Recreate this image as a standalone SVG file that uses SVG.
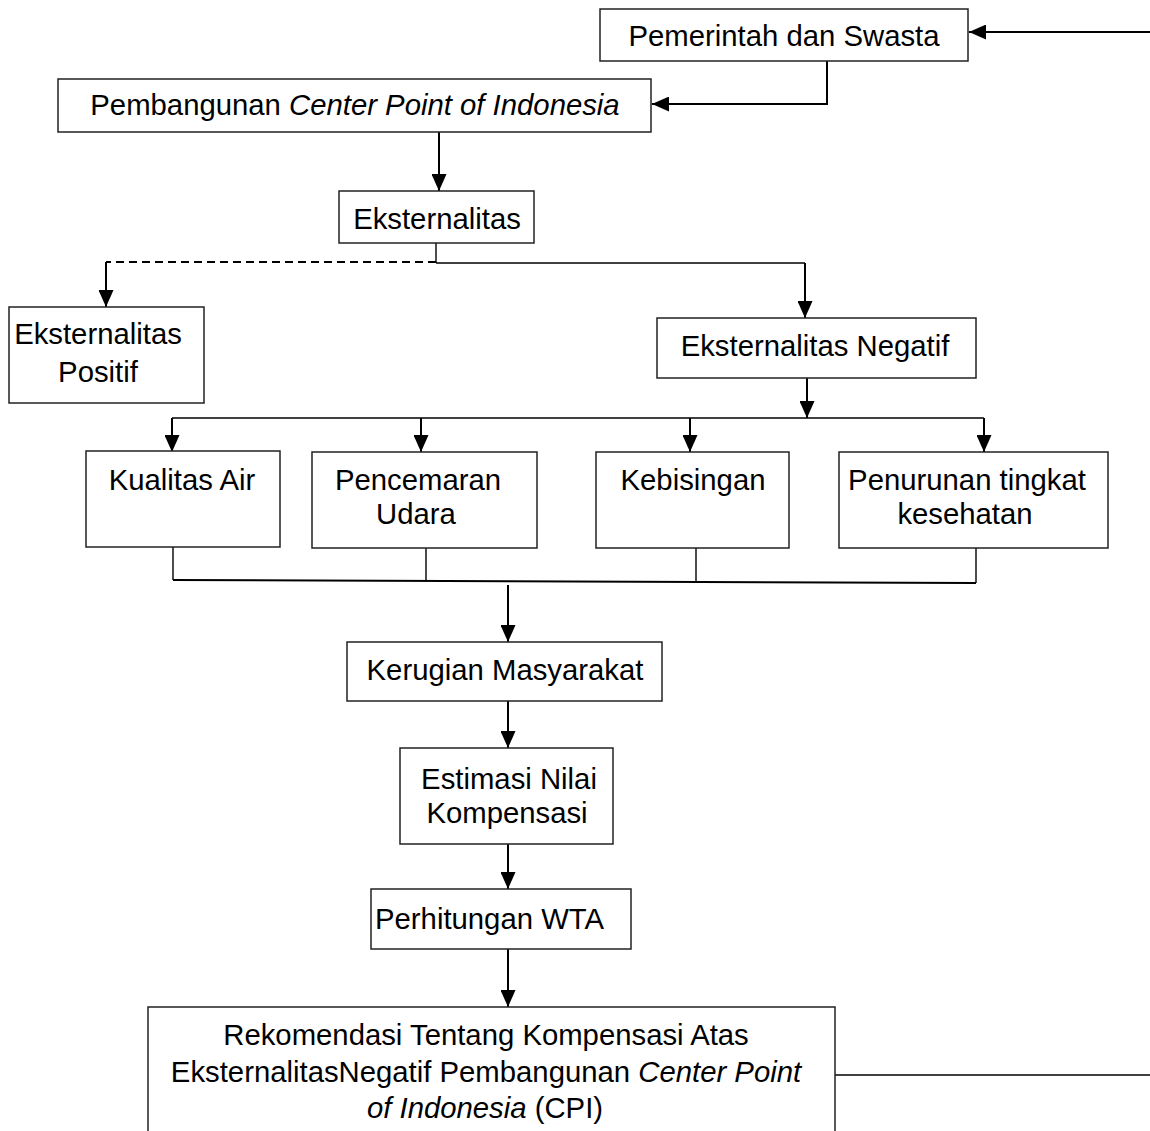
<svg xmlns="http://www.w3.org/2000/svg" width="1150" height="1131" viewBox="0 0 1150 1131">
<style>
.box{fill:#fff;stroke:#222;stroke-width:1.5}
.t{font-family:"Liberation Sans",Arial,sans-serif;font-size:29.3px;fill:#000}
.m{text-anchor:middle}
.c{fill:none;stroke:#000;stroke-width:2}
.l{fill:none;stroke:#000;stroke-width:1.4}
.d{fill:none;stroke:#000;stroke-width:2;stroke-dasharray:8 5}
</style>
<defs>
<marker id="ah" markerUnits="userSpaceOnUse" markerWidth="17" markerHeight="15" refX="17" refY="7.5" orient="auto">
<path d="M0,0 L17,7.5 L0,15 z" fill="#000"/>
</marker>
</defs>
<rect width="1150" height="1131" fill="#fff"/>
<g id="connectors">
<path class="c" d="M1150,32 H969" marker-end="url(#ah)"/>
<path class="c" d="M827,61 V104 H652" marker-end="url(#ah)"/>
<path class="c" d="M439,132 V191" marker-end="url(#ah)"/>
<path class="l" d="M436,243 V263"/>
<path class="d" d="M436,262 H106"/>
<path class="c" d="M106,262 V307" marker-end="url(#ah)"/>
<path class="l" d="M436,263 H805"/>
<path class="c" d="M805,263 V318" marker-end="url(#ah)"/>
<path class="c" d="M807,378 V418" marker-end="url(#ah)"/>
<path class="l" d="M172,418 H984"/>
<path class="c" d="M172,418 V452" marker-end="url(#ah)"/>
<path class="c" d="M421,418 V452" marker-end="url(#ah)"/>
<path class="c" d="M690,418 V452" marker-end="url(#ah)"/>
<path class="c" d="M984,418 V452" marker-end="url(#ah)"/>
<path class="l" d="M173,547 V580"/>
<path class="l" d="M426,548 V580"/>
<path class="l" d="M696,548 V583"/>
<path class="l" d="M976,548 V583"/>
<path class="c" d="M173,580 L976,583"/>
<path class="c" d="M508,585 V642" marker-end="url(#ah)"/>
<path class="c" d="M508,701 V748" marker-end="url(#ah)"/>
<path class="c" d="M508,844 V889" marker-end="url(#ah)"/>
<path class="c" d="M508,949 V1007" marker-end="url(#ah)"/>
<path class="l" d="M835,1075 H1150"/>
</g>
<g id="n-pemerintah">
<rect class="box" x="600" y="9" width="368" height="52"/>
<text class="t m" x="784" y="46">Pemerintah dan Swasta</text>
</g>
<g id="n-pembangunan">
<rect class="box" x="58" y="79" width="593" height="53"/>
<text class="t m" x="355" y="115">Pembangunan <tspan font-style="italic">Center Point of Indonesia</tspan></text>
</g>
<g id="n-eksternalitas">
<rect class="box" x="339" y="191" width="195" height="52"/>
<text class="t m" x="437" y="229">Eksternalitas</text>
</g>
<g id="n-positif">
<rect class="box" x="9" y="307" width="195" height="96"/>
<text class="t m" x="98" y="344">Eksternalitas</text>
<text class="t m" x="98" y="382">Positif</text>
</g>
<g id="n-negatif">
<rect class="box" x="657" y="318" width="319" height="60"/>
<text class="t m" x="815" y="356">Eksternalitas Negatif</text>
</g>
<g id="n-air">
<rect class="box" x="86" y="451" width="194" height="96"/>
<text class="t m" x="182" y="490">Kualitas Air</text>
</g>
<g id="n-udara">
<rect class="box" x="312" y="452" width="225" height="96"/>
<text class="t m" x="418" y="490">Pencemaran</text>
<text class="t m" x="416" y="524">Udara</text>
</g>
<g id="n-kebisingan">
<rect class="box" x="596" y="452" width="193" height="96"/>
<text class="t m" x="693" y="490">Kebisingan</text>
</g>
<g id="n-kesehatan">
<rect class="box" x="839" y="452" width="269" height="96"/>
<text class="t m" x="967" y="490">Penurunan tingkat</text>
<text class="t m" x="965" y="524">kesehatan</text>
</g>
<g id="n-kerugian">
<rect class="box" x="347" y="642" width="315" height="59"/>
<text class="t m" x="505" y="680">Kerugian Masyarakat</text>
</g>
<g id="n-estimasi">
<rect class="box" x="400" y="748" width="213" height="96"/>
<text class="t m" x="509" y="789">Estimasi Nilai</text>
<text class="t m" x="507" y="823">Kompensasi</text>
</g>
<g id="n-wta">
<rect class="box" x="371" y="889" width="260" height="60"/>
<text class="t" x="375" y="929">Perhitungan WTA</text>
</g>
<g id="n-rekomendasi">
<rect class="box" x="148" y="1007" width="687" height="140"/>
<text class="t m" x="486" y="1045">Rekomendasi Tentang Kompensasi Atas</text>
<text class="t m" x="486" y="1082">EksternalitasNegatif Pembangunan <tspan font-style="italic">Center Point</tspan></text>
<text class="t m" x="485" y="1118"><tspan font-style="italic">of Indonesia</tspan> (CPI)</text>
</g>
</svg>
